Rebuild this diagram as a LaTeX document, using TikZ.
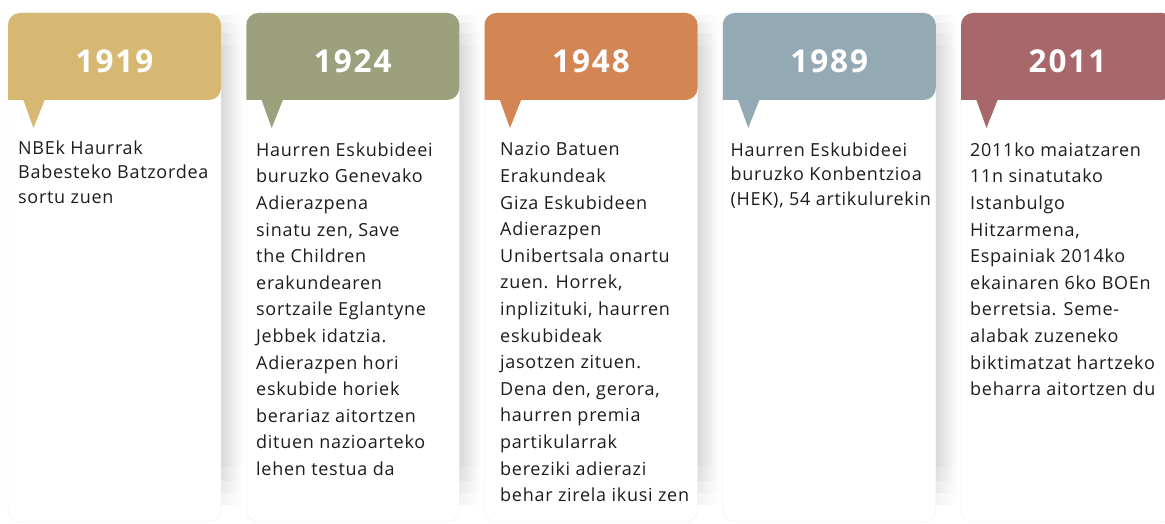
\documentclass[tikz,border=0pt]{standalone}
\usepackage{fontspec}
\setmainfont[LetterSpace=4]{Open Sans}
\newfontfamily\yearfont[LetterSpace=6]{Open Sans}

\definecolor{c1919}{RGB}{214,184,115}
\definecolor{c1924}{RGB}{156,160,125}
\definecolor{c1948}{RGB}{212,133,84}
\definecolor{c1989}{RGB}{147,170,181}
\definecolor{c2011}{RGB}{168,103,106}
\definecolor{inkdark}{RGB}{30,28,30}

\begin{document}
\begin{tikzpicture}[x=1pt,y=-1pt,
  yearlabel/.style={text=white,inner sep=0pt,font=\yearfont\bfseries\fontsize{31.5}{31.5}\selectfont},
  cardtext/.style={anchor=north west,inner sep=0pt,align=left,text=inkdark,
    font=\fontsize{18}{#1}\selectfont},
  cardtext/.default=26.6]
  % page frame
  \clip (0,0) rectangle (1165,524);
  \fill[white] (0,0) rectangle (1165,524);

  % cards: soft shadow, white body, coloured header with pointer, year
  \foreach \xl/\col/\yr/\nm in {8/c1919/1919/a, 246.25/c1924/1924/b,
      484.5/c1948/1948/c, 722.75/c1989/1989/d, 961/c2011/2011/e} {
    \foreach \sh/\yt/\yb in {5/16/504, 9/24/492, 13/34/480, 16/46/466}
      \shade[left color=black!\sh,right color=white] (\xl+212,\yt) rectangle (\xl+235,\yb);
    \draw[black!7,fill=white,rounded corners=12] (\xl,13) rectangle (\xl+213,522);
    \fill[\col] (\xl,100) [rounded corners=12] |- (\xl+106,13) -| (\xl+213,100)
      [sharp corners] -- cycle;
    \fill[\col] (\xl+15,99) -- (\xl+25.5,128) -- (\xl+37,99) -- cycle;
    \node[yearlabel] (year\nm) at (\xl+106.5,61) {\yr};
  }

  % texts of the cards
  \node[cardtext=24.5] (texta) at (18,140.5) {NBEk Haurrak\\Babesteko Batzordea\\sortu zuen};
  \node[cardtext] (textb) at (256,142.5) {Haurren Eskubideei\\buruzko Genevako\\Adierazpena\\sinatu zen, Save\\the Children\\erakundearen\\sortzaile Eglantyne\\Jebbek idatzia.\\Adierazpen hori\\eskubide horiek\\berariaz aitortzen\\dituen nazioarteko\\lehen testua da};
  \node[cardtext] (textc) at (500,142.5) {Nazio Batuen\\Erakundeak\\Giza Eskubideen\\Adierazpen\\Unibertsala onartu\\zuen. Horrek,\\inplizituki, haurren\\eskubideak\\jasotzen zituen.\\Dena den, gerora,\\haurren premia\\partikularrak\\bereziki adierazi\\behar zirela ikusi zen};
  \node[cardtext=24.5] (textd) at (730.5,142.5) {Haurren Eskubideei\\buruzko Konbentzioa\\(HEK), 54 artikulurekin};
  \node[cardtext] (texte) at (970,142.5) {2011ko maiatzaren\\11n sinatutako\\Istanbulgo\\Hitzarmena,\\Espainiak 2014ko\\ekainaren 6ko BOEn\\berretsia. Seme-\\alabak zuzeneko\\biktimatzat hartzeko\\beharra aitortzen du};
\end{tikzpicture}
\end{document}
